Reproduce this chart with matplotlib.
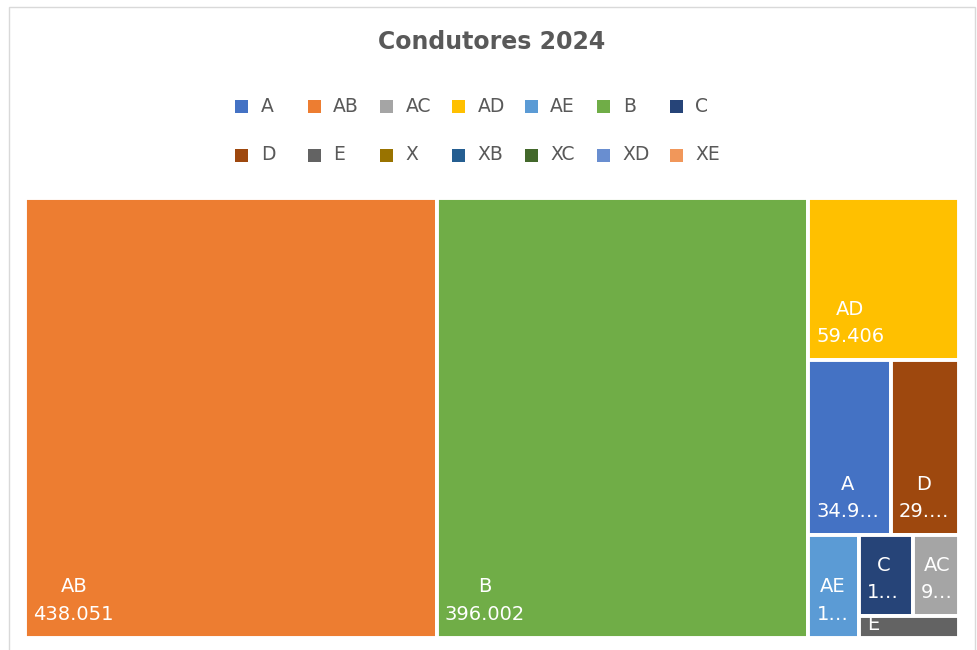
import matplotlib
matplotlib.use("Agg")
import matplotlib.pyplot as plt
from matplotlib.patches import Rectangle

categories = ["A", "AB", "AC", "AD", "AE", "B", "C", "D", "E", "X", "XB", "XC", "XD", "XE"]
drivers = [34950, 438051, 9120, 59406, 12600, 396002, 10500, 29200, 5200, 0, 0, 0, 0, 0]
colors = ["#4472C4", "#ED7D31", "#A5A5A5", "#FFC000", "#5B9BD5", "#70AD47", "#264478",
          "#9E480E", "#636363", "#997300", "#255E91", "#43682B", "#698ED0", "#F1975A"]
# the way Excel grouped the tiles (largest first)
tile_rows = [["AB"], ["B"], ["AD"], ["A", "D"], ["AE"], ["C", "AC"], ["E"]]

FW, FH = 978, 650
GRAY = "#595959"


def fx(px):
    return px / FW


def fy(py):
    return 1 - py / FH


def layout(rows, sizes, x, y, w, h):
    rects = {}
    left = sum(sizes[n] for r in rows for n in r)
    for r in rows:
        s = sum(sizes[n] for n in r)
        if s == 0:
            continue
        if w >= h:
            gw = w * s / left
            yy = y
            for n in r:
                nh = h * sizes[n] / s
                rects[n] = (x, yy, gw, nh)
                yy += nh
            x += gw
            w -= gw
        else:
            gh = h * s / left
            xx = x
            for n in r:
                nw = w * sizes[n] / s
                rects[n] = (xx, y, nw, gh)
                xx += nw
            y += gh
            h -= gh
        left -= s
    return rects


fig = plt.figure(figsize=(FW / 100, FH / 100), dpi=100)
renderer = fig.canvas.get_renderer()

# chart border
fig.add_artist(Rectangle((fx(9), fy(660)), fx(966), 653 / FH,
                         transform=fig.transFigure, fill=False, edgecolor="#D9D9D9", lw=1))

fig.text(fx(492), fy(42), "Condutores 2024", ha="center", va="center",
         fontsize=17, fontweight="bold", color=GRAY)

# legend, 7 per row like Excel
for i, cat in enumerate(categories):
    cx = 241.7 + 72.4 * (i % 7)
    cy = 106.5 + 48.5 * (i // 7)
    fig.add_artist(Rectangle((fx(cx - 6.5), fy(cy + 6.5)), 13 / FW, 13 / FH,
                             transform=fig.transFigure, color=colors[i], lw=0))
    fig.text(fx(cx + 19), fy(cy), cat, ha="left", va="center", fontsize=13.5, color=GRAY)

# plot area in pixels
X0, Y0, X1, Y1 = 25.5, 197.5, 959.5, 637.5
W, H = X1 - X0, Y1 - Y0
ax = fig.add_axes([fx(X0), fy(Y1), W / FW, H / FH])
ax.set_xlim(0, W)
ax.set_ylim(H, 0)
ax.axis("off")

sizes = dict(zip(categories, drivers))
col = dict(zip(categories, colors))
rects = layout(tile_rows, sizes, 0, 0, W, H)

FS = 14
prop = matplotlib.font_manager.FontProperties(size=FS)


def text_w(s):
    return renderer.get_text_width_height_descent(s, prop, ismath=False)[0]


def fit(s, avail):
    if text_w(s) <= avail:
        return s
    for k in range(len(s) - 1, 0, -1):
        t = s[:k] + "…"
        if text_w(t) <= avail:
            return t
    return s[:1] + "…"


for name, (x, y, w, h) in rects.items():
    tile = Rectangle((x, y), w, h, facecolor=col[name], edgecolor="white", lw=2.8)
    ax.add_patch(tile)
    val = f"{sizes[name]:,}".replace(",", ".")
    avail = w - 15
    if h > 60:
        label = fit(name, avail) + "\n" + fit(val, avail)
        t = ax.text(x + 8, y + h - 14, label, ha="left", va="bottom", multialignment="center",
                    fontsize=FS, color="white", linespacing=1.55)
    else:
        t = ax.text(x + 8, y - 1, fit(name, avail), ha="left", va="top",
                    fontsize=FS, color="white")
    t.set_clip_path(tile)

fig.savefig("out.png", dpi=100)
